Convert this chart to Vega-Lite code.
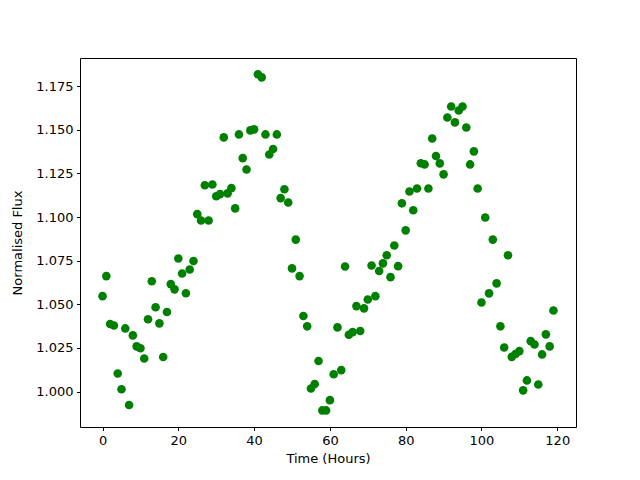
{
  "$schema": "https://vega.github.io/schema/vega-lite/v6.json",
  "width": 496,
  "height": 369,
  "autosize": {"type": "none"},
  "padding": {"left": 80, "top": 58, "right": 64, "bottom": 53},
  "background": "white",
  "config": {
    "view": {"stroke": "black", "strokeWidth": 1},
    "font": "DejaVu Sans",
    "axis": {
      "grid": false,
      "domain": false,
      "tickColor": "black",
      "tickSize": 3.5,
      "tickWidth": 1,
      "labelColor": "black",
      "labelFont": "DejaVu Sans",
      "labelFontSize": 13,
      "labelPadding": 3.5,
      "titleColor": "black",
      "titleFont": "DejaVu Sans",
      "titleFontSize": 13,
      "titleFontWeight": "normal"
    }
  },
  "data": {
    "values": [
      {"t": 0, "flux": 1.0547}, {"t": 1, "flux": 1.0662}, {"t": 2, "flux": 1.0387}, {"t": 3, "flux": 1.0379},
      {"t": 4, "flux": 1.0104}, {"t": 5, "flux": 1.0013}, {"t": 6, "flux": 1.0362}, {"t": 7, "flux": 0.9923},
      {"t": 8, "flux": 1.0322}, {"t": 9, "flux": 1.0259}, {"t": 10, "flux": 1.0248}, {"t": 11, "flux": 1.0190},
      {"t": 12, "flux": 1.0415}, {"t": 13, "flux": 1.0632}, {"t": 14, "flux": 1.0483}, {"t": 15, "flux": 1.0391},
      {"t": 16, "flux": 1.0198}, {"t": 17, "flux": 1.0456}, {"t": 18, "flux": 1.0616}, {"t": 19, "flux": 1.0586},
      {"t": 20, "flux": 1.0763}, {"t": 21, "flux": 1.0677}, {"t": 22, "flux": 1.0564}, {"t": 23, "flux": 1.0700},
      {"t": 24, "flux": 1.0748}, {"t": 25, "flux": 1.1017}, {"t": 26, "flux": 1.0981}, {"t": 27, "flux": 1.1183},
      {"t": 28, "flux": 1.0981}, {"t": 29, "flux": 1.1187}, {"t": 30, "flux": 1.1120}, {"t": 31, "flux": 1.1132},
      {"t": 32, "flux": 1.1457}, {"t": 33, "flux": 1.1136}, {"t": 34, "flux": 1.1166}, {"t": 35, "flux": 1.1050},
      {"t": 36, "flux": 1.1474}, {"t": 37, "flux": 1.1338}, {"t": 38, "flux": 1.1273}, {"t": 39, "flux": 1.1497},
      {"t": 40, "flux": 1.1503}, {"t": 41, "flux": 1.1819}, {"t": 42, "flux": 1.1801}, {"t": 43, "flux": 1.1474},
      {"t": 44, "flux": 1.1359}, {"t": 45, "flux": 1.1390}, {"t": 46, "flux": 1.1474}, {"t": 47, "flux": 1.1109},
      {"t": 48, "flux": 1.1160}, {"t": 49, "flux": 1.1084}, {"t": 50, "flux": 1.0706}, {"t": 51, "flux": 1.0871},
      {"t": 52, "flux": 1.0662}, {"t": 53, "flux": 1.0433}, {"t": 54, "flux": 1.0374}, {"t": 55, "flux": 1.0018},
      {"t": 56, "flux": 1.0043}, {"t": 57, "flux": 1.0175}, {"t": 58, "flux": 0.9892}, {"t": 59, "flux": 0.9892},
      {"t": 60, "flux": 0.9951}, {"t": 61, "flux": 1.0099}, {"t": 62, "flux": 1.0368}, {"t": 63, "flux": 1.0123},
      {"t": 64, "flux": 1.0717}, {"t": 65, "flux": 1.0326}, {"t": 66, "flux": 1.0341}, {"t": 67, "flux": 1.0490},
      {"t": 68, "flux": 1.0347}, {"t": 69, "flux": 1.0477}, {"t": 70, "flux": 1.0528}, {"t": 71, "flux": 1.0723},
      {"t": 72, "flux": 1.0547}, {"t": 73, "flux": 1.0691}, {"t": 74, "flux": 1.0735}, {"t": 75, "flux": 1.0781},
      {"t": 76, "flux": 1.0656}, {"t": 77, "flux": 1.0837}, {"t": 78, "flux": 1.0719}, {"t": 79, "flux": 1.1079},
      {"t": 80, "flux": 1.0924}, {"t": 81, "flux": 1.1147}, {"t": 82, "flux": 1.1039}, {"t": 83, "flux": 1.1164},
      {"t": 84, "flux": 1.1309}, {"t": 85, "flux": 1.1302}, {"t": 86, "flux": 1.1164}, {"t": 87, "flux": 1.1451},
      {"t": 88, "flux": 1.1350}, {"t": 89, "flux": 1.1308}, {"t": 90, "flux": 1.1245}, {"t": 91, "flux": 1.1571},
      {"t": 92, "flux": 1.1634}, {"t": 93, "flux": 1.1543}, {"t": 94, "flux": 1.1611}, {"t": 95, "flux": 1.1634},
      {"t": 96, "flux": 1.1514}, {"t": 97, "flux": 1.1302}, {"t": 98, "flux": 1.1377}, {"t": 99, "flux": 1.1164},
      {"t": 100, "flux": 1.0511}, {"t": 101, "flux": 1.0998}, {"t": 102, "flux": 1.0563}, {"t": 103, "flux": 1.0871},
      {"t": 104, "flux": 1.0620}, {"t": 105, "flux": 1.0374}, {"t": 106, "flux": 1.0253}, {"t": 107, "flux": 1.0781},
      {"t": 108, "flux": 1.0199}, {"t": 109, "flux": 1.0215}, {"t": 110, "flux": 1.0232}, {"t": 111, "flux": 1.0007},
      {"t": 112, "flux": 1.0064}, {"t": 113, "flux": 1.0289}, {"t": 114, "flux": 1.0270}, {"t": 115, "flux": 1.0041},
      {"t": 116, "flux": 1.0213}, {"t": 117, "flux": 1.0328}, {"t": 118, "flux": 1.0259}, {"t": 119, "flux": 1.0465}
    ]
  },
  "mark": {"type": "point", "filled": true, "color": "#008000", "opacity": 1, "size": 74, "shape": "circle", "strokeWidth": 0},
  "encoding": {
    "x": {
      "field": "t", "type": "quantitative",
      "scale": {"domain": [-5.95, 124.95], "nice": false, "zero": false},
      "axis": {"values": [0, 20, 40, 60, 80, 100, 120], "format": "d", "title": "Time (Hours)", "titlePadding": 5}
    },
    "y": {
      "field": "flux", "type": "quantitative",
      "scale": {"domain": [0.9797, 1.1912], "nice": false, "zero": false},
      "axis": {"values": [1.0, 1.025, 1.05, 1.075, 1.1, 1.125, 1.15, 1.175], "format": ".3f", "title": "Normalised Flux", "titlePadding": 11}
    }
  }
}
